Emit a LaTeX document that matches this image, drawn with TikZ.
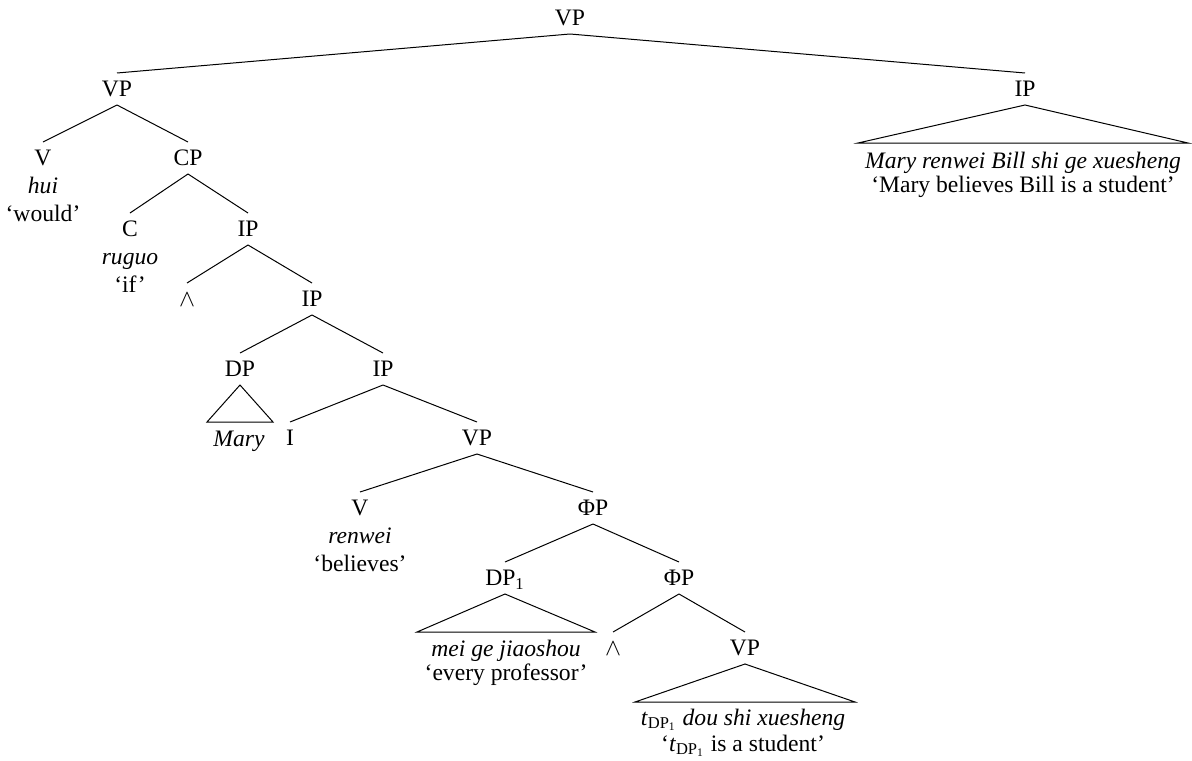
\documentclass[tikz,border=0pt]{standalone}
\usepackage{fontspec}
\setmainfont{Liberation Serif}
\newcommand{\treefont}{\fontsize{11.8}{14}\selectfont}
\tikzset{
  cat/.style={font=\treefont, inner xsep=0pt, inner ysep=3.9pt, text height=7.8pt, text depth=0pt, anchor=center},
  gloss/.style={font=\treefont, inner sep=0pt, anchor=base},
  branch/.style={line width=0.5pt, line join=miter}
}
\begin{document}
\begin{tikzpicture}[x=0.5pt,y=-0.5pt]
\useasboundingbox (0,0) rectangle (1192,760);
% category nodes
\node[cat] (vp0) at (570,18) {VP};
\node[cat] (vp1) at (117,89) {VP};
\node[cat] (ipr) at (1025,89) {IP};
\node[cat] (v1) at (43,158) {V};
\node[gloss] (v1a) at ([yshift=-14pt]v1.base) {\textit{hui}};
\node[gloss] (v1b) at ([yshift=-14pt]v1a.base) {‘would’};
\node[cat] (cp) at (188,158) {CP};
\node[cat] (c) at (130,229) {C};
\node[gloss] (ca) at ([yshift=-14pt]c.base) {\textit{ruguo}};
\node[gloss] (cb) at ([yshift=-14pt]ca.base) {‘if’};
\node[cat] (ip2) at (248,229) {IP};
\node[cat] (w1) at (187,299) {$\wedge$};
\node[cat] (ip3) at (312,299) {IP};
\node[cat] (dp) at (240,369) {DP};
\node[cat] (ip4) at (383,369) {IP};
\node[cat] (i) at (290,438) {I};
\node[cat] (vp2) at (477,438) {VP};
\node[cat] (v2) at (360,508) {V};
\node[gloss] (v2a) at ([yshift=-13.8pt]v2.base) {\textit{renwei}};
\node[gloss] (v2b) at ([yshift=-13.8pt]v2a.base) {‘believes’};
\node[cat] (phi1) at (593,508) {ΦP};
\node[cat] (dp1) at (505,578) {DP\textsubscript{1}};
\node[cat] (phi2) at (679,578) {ΦP};
\node[cat] (w2) at (613,648) {$\wedge$};
\node[cat] (vp3) at (745,648) {VP};
% triangle corners
\coordinate (maryL) at (207,422);
\coordinate (maryR) at (273,422);
\coordinate (iprL) at (858,143);
\coordinate (iprR) at (1188,143);
\coordinate (dpoL) at (417,632);
\coordinate (dpoR) at (595,632);
\coordinate (vpthL) at (635,702);
\coordinate (vpthR) at (855,702);
% triangle texts
\node[gloss] (marytxt) at (239,446) {\textit{Mary}};
\node[gloss] (iprt1) at (1023,168) {\textit{Mary renwei Bill shi ge xuesheng}};
\node[gloss] (iprt2) at (1023,192) {‘Mary believes Bill is a student’};
\node[gloss] (dpot1) at (506,656) {\textit{mei ge jiaoshou}};
\node[gloss] (dpot2) at (506,680) {‘every professor’};
\node[gloss] (vptht1) at (743,725) {\textit{t}\textsubscript{DP\textsubscript{1}} \textit{dou shi xuesheng}};
\node[gloss] (vptht2) at (743,751) {‘\textit{t}\textsubscript{DP\textsubscript{1}} is a student’};
% branches
\draw[branch] (vp0.south) -- (vp1.north);
\draw[branch] (vp0.south) -- (ipr.north);
\draw[branch] (vp1.south) -- (v1.north);
\draw[branch] (vp1.south) -- (cp.north);
\draw[branch] (cp.south) -- (c.north);
\draw[branch] (cp.south) -- (ip2.north);
\draw[branch] (ip2.south) -- (w1.north);
\draw[branch] (ip2.south) -- (ip3.north);
\draw[branch] (ip3.south) -- (dp.north);
\draw[branch] (ip3.south) -- (ip4.north);
\draw[branch] (dp.south) -- (maryL) -- (maryR) -- cycle;
\draw[branch] (ip4.south) -- (i.north);
\draw[branch] (ip4.south) -- (vp2.north);
\draw[branch] (vp2.south) -- (v2.north);
\draw[branch] (vp2.south) -- (phi1.north);
\draw[branch] (phi1.south) -- (dp1.north);
\draw[branch] (phi1.south) -- (phi2.north);
\draw[branch] (dp1.south) -- (dpoL) -- (dpoR) -- cycle;
\draw[branch] (phi2.south) -- (w2.north);
\draw[branch] (phi2.south) -- (vp3.north);
\draw[branch] (vp3.south) -- (vpthL) -- (vpthR) -- cycle;
\draw[branch] (ipr.south) -- (iprL) -- (iprR) -- cycle;
\end{tikzpicture}
\end{document}
